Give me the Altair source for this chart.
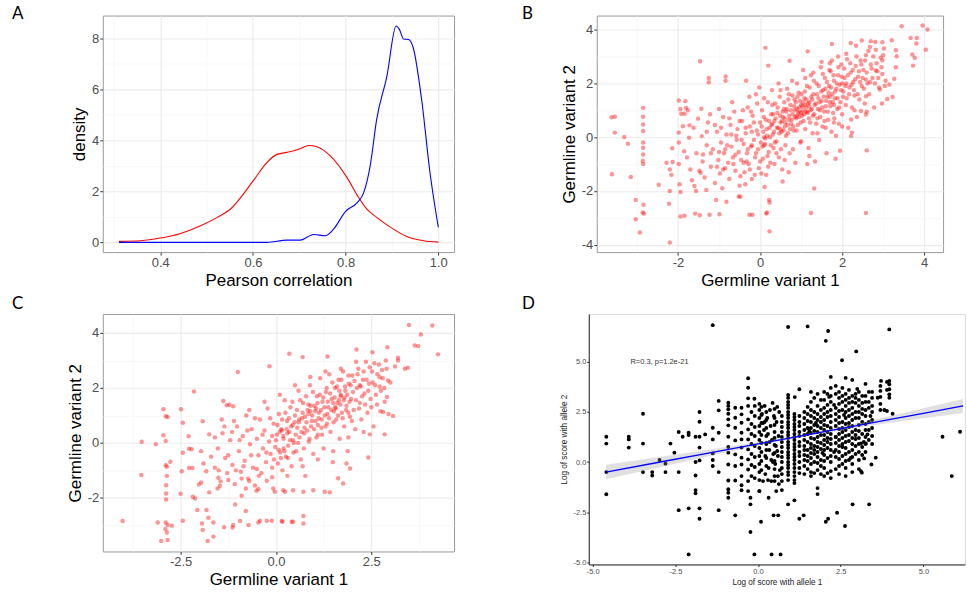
import json
import altair as alt
import pandas as pd

FONT = "Liberation Sans"

# ---------------- Panel A : density of Pearson correlation ----------------
a_red_x = [0.311, 0.358, 0.40, 0.444, 0.487, 0.523, 0.551, 0.60, 0.63, 0.652, 0.677, 0.702,
           0.72, 0.738, 0.767, 0.803, 0.828, 0.846, 0.867, 0.903, 0.932, 0.968, 1.0]
a_red_y = [0.04, 0.065, 0.17, 0.35, 0.65, 0.98, 1.30, 2.40, 3.13, 3.45, 3.54, 3.67,
           3.80, 3.75, 3.39, 2.54, 1.76, 1.30, 0.98, 0.52, 0.23, 0.065, 0.01]
a_blue_x = [0.311, 0.63, 0.673, 0.702, 0.731, 0.756, 0.774, 0.80, 0.825, 0.839, 0.853, 0.867,
            0.889, 0.909, 0.916, 0.925, 0.936, 0.946, 0.964, 0.982, 1.0]
a_blue_y = [0.0, 0.0, 0.09, 0.09, 0.31, 0.26, 0.52, 1.22, 1.56, 1.95, 3.0, 4.82,
            6.51, 8.48, 8.35, 7.97, 7.95, 7.62, 5.6, 2.74, 0.59]

# ---------------- Panel B : germline variant scatter ----------------
b_points = [
    (-3.62, 0.74), (-3.54, 0.76), (-3.54, 0.17), (-3.61, -1.38), (-3.31, 0.01), (-3.22, -0.24),
    (-3.15, -1.48), (-3.03, -2.33), (-3.03, -3.05), (-2.93, -3.54), (-2.85, 1.09), (-2.85, 0.76),
    (-2.85, 0.47), (-2.85, 0.23), (-2.85, -0.2), (-2.85, -0.39), (-2.85, -0.64), (-2.86, -0.88),
    (-2.85, -1.0), (-2.84, -2.51), (-2.86, -2.8), (-2.83, -2.84), (-2.47, -1.77), (-2.28, -0.95),
    (-2.22, -2.47), (-2.2, -3.91), (-2.2, -2.0), (-2.14, -0.41), (-2.13, -0.92), (-2.16, -1.4),
    (-2.2, -1.2), (-1.98, 1.36), (-1.94, 1.05), (-1.82, 1.34), (-1.8, 1.09), (-1.92, 0.87),
    (-1.84, 0.87), (-1.76, 1.0), (-1.98, 0.17), (-1.98, -0.2), (-1.98, -1.0), (-1.96, -1.75),
    (-1.94, -2.04), (-1.94, -2.95), (-1.84, -2.92), (-1.85, -0.52), (-1.88, 0.41), (-1.72, 0.44),
    (-1.73, -0.02), (-1.6, -1.81), (-1.56, -2.0), (-1.58, -2.84), (-1.47, -2.9), (-1.46, 2.82),
    (-1.43, 1.06), (-1.51, 0.69), (-1.42, 0.04), (-1.45, -1.32), (-1.39, -0.64), (-1.31, -1.96),
    (-1.25, 2.2), (-1.25, 2.04), (-1.23, -2.88), (-1.07, -2.33), (-0.99, -2.86), (-0.84, 2.26),
    (-0.84, 2.1), (-0.82, -2.4), (-0.52, -2.2), (-0.48, -2.21), (-0.26, -2.88), (-0.19, -2.88),
    (-0.34, 2.1), (0.13, 3.32), (0.2, 2.66), (0.15, -2.84), (0.17, -2.8), (0.22, -2.33),
    (0.23, -2.43), (0.23, -3.5), (0.72, 2.84), (1.16, 3.19), (1.24, -2.82), (1.32, -1.91),
    (1.75, 3.46), (2.58, -2.82), (2.6, -0.49), (3.45, 4.12), (3.96, 4.15), (4.08, 4.0),
    (4.04, 3.25), (3.67, 3.69), (3.82, 3.69), (3.81, 3.48), (3.71, 3.07), (3.77, 2.95),
    (3.73, 2.66), (3.31, 3.23), (3.33, 3.01), (3.31, 2.6), (3.21, 3.6), (2.98, 3.53),
    (2.81, 3.54), (2.7, 3.57), (2.48, 3.59), (2.21, 3.5), (2.34, 3.4), (3.27, 2.17),
    (3.15, 1.96), (3.04, 1.9), (3.23, 1.49), (2.97, 1.25), (3.1, 1.42), (2.92, 1.77),
    (2.98, 2.86), (2.82, 2.48), (2.58, 2.14), (2.58, 1.52), (2.58, 0.84), (2.46, 0.97),
    (2.22, 0.66), (2.24, 0.17), (2.22, 0.04),
    (-1.55, -0.6), (-1.48, -1.25), (-1.4, -0.9), (-1.35, -1.5), (-1.3, -0.3), (-1.27, 0.55),
    (-1.2, -1.1), (-1.15, -0.45), (-1.1, -1.7), (-1.05, 0.2), (-1.02, -0.85), (-0.98, -1.35),
    (-0.95, -0.2), (-0.9, 0.75), (-0.88, -0.6), (-0.85, -1.15), (-0.82, 0.1), (-0.78, -0.95),
    (-0.75, -1.55), (-0.72, 0.45), (-0.7, -0.35), (-0.66, -0.75), (-0.63, 0.95), (-0.6, -1.25),
    (-0.57, -0.1), (-0.55, 0.3), (-0.52, -0.55), (-0.5, -1.8), (-1.62, 0.35), (-1.7, -1.2),
    (-1.78, -0.75), (-1.66, -1.6), (-1.22, 0.85), (-1.0, 1.05), (-0.92, -1.9), (-0.68, 1.3),
    (-0.46, -0.85), (-0.44, 0.6), (-0.4, -0.25), (-0.38, -1.3), (-0.35, 0.15), (-0.32, -0.6),
    (-0.3, 1.1), (-0.28, -1.0), (-0.25, 0.4), (-0.22, -0.35), (-0.2, -1.55), (-0.18, 0.8),
    (-0.15, -0.1), (-0.12, -0.75), (-0.1, 1.6), (-0.08, 0.25), (-0.05, -0.45), (-0.03, -1.15),
    (0.0, 0.55), (0.02, -0.2), (0.05, 1.0), (0.07, -0.8), (0.08, 0.2), (0.1, -0.3),
    (0.12, -0.25), (0.14, 0.65), (0.15, -1.4), (0.17, 0.05), (0.19, 1.3), (0.21, -0.55),
    (0.23, 0.35), (0.25, -0.95), (0.27, 0.85), (0.29, 1.75), (-0.26, 1.5), (-0.02, 1.85),
    (0.11, -1.85), (-0.36, -1.75),
    (0.31, 0.1), (0.33, -0.4), (0.35, 0.6), (0.37, 1.25), (0.4, -0.15), (0.42, 0.9),
    (0.44, 0.35), (0.46, -0.75), (0.48, 1.5), (0.5, 0.55), (0.52, 0.2), (0.54, -1.2),
    (0.56, 0.75), (0.58, 1.05), (0.6, 0.4), (0.62, -0.3), (0.64, 0.95), (0.66, 1.8),
    (0.68, 0.15), (0.7, 0.65), (0.72, -0.6), (0.74, 1.2), (0.76, 0.5), (0.78, 2.1),
    (0.8, 0.85), (0.82, 0.25), (0.84, 1.4), (0.86, -0.95), (0.88, 0.7), (0.9, 1.05),
    (0.92, 0.45), (0.94, 1.65), (0.96, 0.95), (0.98, -0.2), (0.45, 2.0), (0.55, -1.65),
    (0.7, -1.3), (0.35, -1.0),
    (1.0, 1.2), (1.02, 0.8), (1.04, 1.0), (1.06, 0.6), (1.08, 1.45), (1.1, 0.3),
    (1.12, 1.1), (1.14, 1.9), (1.16, 0.9), (1.18, -0.4), (1.2, 1.3), (1.22, 0.55),
    (1.24, 2.3), (1.26, 1.05), (1.28, 0.15), (1.3, 1.6), (1.32, 0.85), (1.34, -0.9),
    (1.36, 1.25), (1.38, 2.0), (1.4, 0.7), (1.42, 1.45), (1.44, -0.1), (1.46, 1.0),
    (1.48, 2.6), (1.5, 1.35), (1.52, 0.4), (1.54, 1.75), (1.56, 0.95), (1.58, 2.2),
    (1.6, 1.15), (1.62, -0.6), (1.64, 1.5), (1.66, 0.65), (1.68, 1.9), (1.05, 2.5),
    (1.15, -1.0), (0.95, 0.75), (1.25, 1.5),
    (1.7, 1.3), (1.72, 2.45), (1.74, 0.2), (1.76, 1.6), (1.78, 0.9), (1.8, 2.1),
    (1.82, 1.45), (1.84, -0.8), (1.86, 1.8), (1.88, 1.05), (1.9, 2.3), (1.92, 0.5),
    (1.94, 1.95), (1.96, 1.3), (1.98, 2.7), (2.0, 0.85), (2.03, 1.7), (2.06, 2.2),
    (2.09, 1.2), (2.12, 2.9), (2.15, 0.35), (2.18, 1.85), (2.21, 2.4), (2.24, 1.1),
    (2.27, 2.05), (2.3, 1.55), (2.33, 2.65), (2.36, 0.75), (2.39, 2.25), (2.42, 1.4),
    (2.45, 2.85), (2.48, 1.9), (1.75, 2.85), (1.95, -0.5), (2.1, 3.1), (1.85, 0.05),
    (2.52, 2.5), (2.55, 1.25), (2.58, 3.05), (2.62, 2.0), (2.66, 1.6), (2.7, 2.7),
    (2.74, 2.2), (2.78, 1.1), (2.82, 3.25), (2.86, 2.45), (2.9, 1.85), (2.94, 2.95),
    (2.98, 2.35), (3.02, 3.3), (3.06, 2.1), (2.6, 0.95), (2.68, 3.35), (2.8, 2.0),
    (0.95, 1.1), (1.05, 1.3), (1.0, 0.9), (1.1, 1.2), (0.9, 0.8), (0.85, 1.0),
    (1.15, 0.95), (1.2, 1.15), (0.5, 0.3), (0.6, 0.7), (1.7, 1.5), (1.8, 1.2),
    (2.0, 2.0), (0.3, 0.5), (0.1, 0.0), (-0.2, -0.3),
    (-1.0, -0.55), (-0.9, -1.2), (-0.8, -0.3), (-0.7, 0.1), (-0.6, -0.65), (-0.5, 0.6),
    (-0.45, -0.1), (-0.4, -0.95), (-0.35, 0.35), (-0.3, -0.45), (-0.25, -1.2), (-0.2, 0.2),
    (-0.15, 0.55), (-0.1, -0.6), (-0.05, 0.1), (0.0, -0.9), (0.04, 0.4), (0.06, -0.35),
    (0.09, 0.75), (0.13, -0.05), (0.16, 0.3), (0.18, -0.7), (0.22, 0.6), (0.24, 0.0),
    (0.26, -0.3), (0.28, 0.45), (0.32, 0.85), (0.34, 0.2), (0.36, -0.2), (0.38, 0.7),
    (0.41, 0.35), (0.43, 1.1), (0.47, 0.15), (0.49, 0.8), (0.51, -0.45), (0.53, 0.6),
    (0.55, 0.95), (0.57, 0.25), (0.59, 1.3), (0.61, 0.55), (0.63, 0.05), (0.65, 1.05),
    (0.67, 0.45), (0.69, 1.4), (0.71, 0.8), (0.73, 0.3), (0.75, 1.0), (0.77, 0.65),
    (0.79, 1.55), (0.81, 0.4), (0.83, 1.15), (0.85, 0.75), (0.87, 1.3), (0.89, 0.25),
    (0.91, 1.5), (0.93, 0.9), (0.97, 1.35), (0.99, 0.55), (1.01, 1.6), (1.03, 1.15),
    (1.07, 0.85), (1.09, 1.7), (1.11, 0.95), (1.13, 1.4), (1.17, 1.25), (1.19, 0.7),
    (1.21, 1.85), (1.23, 1.0), (1.27, 1.4), (1.29, 0.8), (1.31, 2.1), (1.33, 1.2),
    (1.37, 0.5), (1.39, 1.6), (1.41, 1.05), (1.43, 1.9), (1.45, 1.3), (1.47, 0.75),
    (1.49, 1.7), (1.51, 1.1), (1.53, 2.35), (1.55, 1.5), (1.57, 0.6), (1.59, 1.8),
    (1.61, 1.35), (1.63, 2.05), (1.65, 0.95), (1.67, 1.65), (1.69, 2.5), (1.71, 1.15),
    (1.73, 1.85), (1.77, 1.3), (1.79, 2.3), (1.81, 0.7), (1.83, 1.7), (1.87, 2.0),
    (1.89, 1.45), (1.91, 2.6), (1.93, 1.1), (1.97, 1.75), (1.99, 2.25), (2.02, 1.5),
    (2.05, 2.55), (2.08, 1.9), (2.11, 1.45), (2.14, 2.3), (2.17, 1.6), (2.2, 2.75),
    (2.23, 1.95), (2.26, 2.5), (2.29, 1.75), (2.32, 2.15), (2.35, 3.0), (2.38, 1.6),
    (2.41, 2.45), (2.44, 2.05), (2.47, 2.7), (2.5, 2.2), (2.53, 1.8), (2.56, 2.85),
    (2.6, 2.4), (2.64, 3.2), (2.68, 2.05), (2.72, 2.55), (2.76, 3.0), (2.84, 2.75),
    (2.88, 2.2), (2.96, 2.6), (3.0, 3.05), (-1.3, 0.2), (-1.2, -0.6), (-1.1, 0.45),
    (-1.05, -1.1), (-0.95, 0.35), (-0.85, -0.45), (-0.75, 0.7), (-0.65, -1.0), (-0.58, 0.05),
    (-0.48, -1.45), (-0.42, 1.0), (-0.33, -0.9), (-0.22, 0.95), (-0.13, -1.4), (-0.07, 1.25),
    (0.03, -1.35), (0.1, 1.45), (0.2, -1.1), (0.3, 1.2), (0.4, -0.6), (0.5, 1.75),
    (0.6, -0.85), (0.7, 1.6), (0.8, -0.45), (0.9, 2.0), (1.0, -0.15), (1.1, 2.2),
    (1.2, -0.7), (1.3, 2.4), (1.4, 0.15), (1.5, 2.8), (1.6, 0.35), (1.7, 2.75),
    (1.8, 0.55), (1.9, 3.0), (2.0, 0.4), (2.1, 2.0), (2.3, 1.0),
]

# ---------------- Panel C : germline variant scatter ----------------
c_points = [
    (-4.02, -2.84), (-3.53, -1.17), (-3.52, 0.04), (-3.15, -0.05), (-2.95, 1.22), (-2.89, 0.97),
    (-2.84, 0.94), (-2.95, 0.28), (-2.89, 0.07), (-2.89, -0.81), (-2.86, -0.87), (-2.77, -0.69),
    (-2.86, -1.2), (-2.88, -1.54), (-2.88, -1.84), (-2.88, -2.06), (-2.89, -2.9), (-2.84, -2.99),
    (-2.73, -3.01), (-2.9, -3.13), (-2.86, -3.26), (-2.84, -3.53), (-3.01, -3.57), (-3.1, -2.9),
    (-2.5, -1.85), (-2.47, -1.03), (-2.44, -0.36), (-2.44, 0.73), (-2.49, 1.22), (-2.44, -2.83),
    (-2.29, 0.24), (-2.28, -0.21), (-2.21, -0.23), (-2.28, -0.91), (-2.19, -0.91), (-2.18, -1.96),
    (-2.12, -2.02), (-2.15, 1.87), (-2.06, -2.44), (-2.02, -1.51), (-1.96, -1.44), (-1.94, -2.93),
    (-1.92, -3.17), (-1.92, 0.79), (-1.96, -0.3), (-1.9, -0.75), (-1.83, -1.03), (-1.82, -2.44),
    (-1.79, -3.57), (-1.75, 0.31), (-1.75, -1.8), (-1.77, -2.72), (-1.64, -3.41), (-1.64, -2.9),
    (-1.51, -1.27), (-1.53, -1.66), (-1.47, -1.56), (-1.36, -3.07), (-1.42, 0.85), (-1.38, 1.52),
    (-1.29, 1.37), (-1.22, 1.39), (-1.12, 1.33), (-1.14, -3.08), (-1.12, -2.99), (-1.07, -2.24),
    (-1.0, 2.58), (-0.94, -2.84), (-0.79, -2.48), (-0.72, -2.99), (-0.46, -2.9), (-0.42, -2.83),
    (-0.24, -2.83), (-0.11, -2.83), (0.15, -2.84), (0.17, -2.87), (0.41, -2.87), (0.45, -2.87),
    (0.72, -2.66), (0.72, -2.93), (-0.17, 2.79), (0.35, 3.24), (0.7, 3.12), (1.35, 3.14),
    (2.11, 3.4), (2.53, 3.3), (2.92, 3.48), (3.49, 4.29), (4.1, 4.27), (3.8, 3.94),
    (3.64, 3.54), (3.73, 3.52), (4.25, 3.22), (3.2, 3.1), (3.2, 3.0), (3.38, 2.7),
    (3.46, 2.73), (2.94, 2.27), (3.07, 0.98), (2.85, 0.31), (2.42, -0.53), (2.46, 0.31),
    (2.81, 1.12), (2.74, 1.15), (3.12, 2.78), (2.91, 1.67), (2.72, 2.39),
    (1.94, -0.93), (1.85, -0.75), (1.76, -1.48), (1.63, -1.29), (1.41, -1.8), (1.28, -1.78),
    (0.98, -1.72), (0.72, -1.78), (0.45, -1.72), (0.24, -1.78), (0.19, -1.72), (-0.03, -1.78),
    (-0.07, -1.66), (-0.51, -1.74), (-0.46, -1.68), (-0.79, -1.66), (-0.7, -1.39), (-0.9, -1.92),
    (-0.24, -1.38),
    (-1.6, -0.9), (-1.52, -0.2), (-1.45, -1.4), (-1.4, 0.35), (-1.33, -0.55), (-1.28, -1.1),
    (-1.2, 0.1), (-1.14, -0.8), (-1.08, -1.5), (-1.02, 0.6), (-0.97, -0.3), (-0.92, -1.05),
    (-0.87, 0.25), (-0.82, -0.65), (-0.78, 1.0), (-0.73, -1.3), (-0.68, -0.05), (-0.64, 0.5),
    (-0.6, -0.9), (-0.55, -1.55), (-0.5, 0.15), (-0.46, -0.45), (-0.42, 0.85), (-0.38, -1.1),
    (-0.34, -0.2), (-0.3, 0.45), (-0.26, -0.7), (-0.22, 1.25), (-0.18, 0.05), (-0.14, -0.4),
    (-0.1, -1.25), (-0.06, 0.7), (-0.02, -0.15), (0.02, 0.3), (0.05, -0.75), (0.08, 1.05),
    (0.11, -0.35), (0.14, 0.5), (0.17, -1.0), (0.2, 0.15), (0.23, 1.55), (0.26, -0.5),
    (0.29, 0.8), (0.32, -0.1), (0.35, 0.4), (0.38, 1.3), (0.41, -0.85), (0.44, 0.65),
    (0.47, 0.0), (0.5, 1.0), (0.53, -0.3), (0.56, 0.55), (0.59, 1.9), (0.62, 0.2),
    (0.65, -0.6), (0.68, 0.9), (0.71, 1.45), (0.74, 0.35), (0.77, -1.2), (0.8, 0.75),
    (0.83, 1.2), (0.86, 0.05), (0.89, 2.1), (0.92, 0.6), (0.95, 1.0), (0.98, -0.4),
    (1.01, 1.35), (1.04, 0.8), (1.07, 1.7), (1.1, 0.3), (1.13, 1.1), (1.16, 2.35),
    (1.19, 0.55), (1.22, 1.5), (1.25, -0.2), (1.28, 1.0), (1.31, 1.85), (1.34, 0.7),
    (1.37, 1.3), (1.4, 2.5), (1.43, 0.4), (1.46, 1.6), (1.49, -0.7), (1.52, 1.15),
    (1.55, 2.0), (1.58, 0.85), (1.61, 1.45), (1.64, 2.3), (1.67, 0.15), (1.7, 1.75),
    (1.73, 1.1), (1.76, 2.6), (1.79, 0.6), (1.82, 1.9), (1.85, 1.35), (1.88, -0.3),
    (1.91, 2.15), (1.94, 0.95), (1.97, 1.6), (2.0, 2.45), (2.04, 1.2), (2.08, 0.5),
    (2.12, 2.0), (2.16, 2.7), (2.2, 1.45), (2.24, 0.85), (2.28, 2.3), (2.32, 1.8),
    (2.36, 2.95), (2.4, 1.1), (2.44, 2.15), (2.48, 1.6), (2.52, 2.6), (2.56, 0.6),
    (2.6, 2.1), (2.65, 1.4), (2.7, 2.85), (2.75, 1.9), (2.8, 2.35), (2.85, 1.5),
    (2.9, 2.7), (2.95, 1.05), (3.0, 2.2),
    (0.3, 0.35), (0.6, 0.75), (0.9, 1.15), (1.2, 0.85), (1.5, 1.45), (1.8, 1.65),
    (0.75, 0.55), (1.05, 1.25), (1.35, 1.05), (1.65, 1.55), (0.45, 0.1), (0.15, 0.45),
    (1.1, 0.65), (1.55, 1.3), (1.7, 1.7), (0.85, 1.4), (0.2, -0.2), (-0.1, 0.25),
    (1.9, 1.1), (2.2, 2.1),
    (-1.25, -0.45), (-1.15, 0.4), (-1.05, -1.0), (-0.95, 0.1), (-0.85, -0.85), (-0.75, 0.45),
    (-0.65, -0.45), (-0.55, 0.9), (-0.45, -1.2), (-0.35, 0.3), (-0.25, -0.35), (-0.15, 0.9),
    (-0.05, -0.6), (0.0, 0.1), (0.04, 0.65), (0.07, -0.25), (0.1, 0.4), (0.13, -0.55),
    (0.16, 0.85), (0.19, 0.25), (0.22, -0.3), (0.25, 1.1), (0.28, 0.5), (0.31, -0.55),
    (0.34, 0.9), (0.37, 0.1), (0.4, 0.6), (0.43, 1.5), (0.46, -0.35), (0.49, 0.75),
    (0.52, 0.3), (0.55, 1.2), (0.58, 0.0), (0.61, 0.85), (0.64, 1.55), (0.67, 0.4),
    (0.7, 1.1), (0.73, -0.2), (0.76, 0.95), (0.79, 1.7), (0.82, 0.45), (0.85, 1.05),
    (0.88, 0.15), (0.91, 1.35), (0.94, 0.8), (0.97, 1.85), (1.0, 0.5), (1.03, 1.15),
    (1.06, 0.2), (1.09, 1.45), (1.12, 0.9), (1.15, 1.75), (1.18, 1.2), (1.21, 0.3),
    (1.24, 1.65), (1.27, 1.3), (1.3, 0.6), (1.33, 2.0), (1.36, 1.5), (1.39, 0.9),
    (1.42, 1.8), (1.45, 1.2), (1.48, 2.2), (1.51, 0.75), (1.54, 1.65), (1.57, 1.25),
    (1.6, 2.05), (1.63, 1.0), (1.66, 1.9), (1.69, 1.4), (1.72, 2.3), (1.75, 0.9),
    (1.78, 1.55), (1.81, 2.05), (1.84, 1.2), (1.87, 1.75), (1.9, 2.45), (1.93, 1.5),
    (1.96, 2.1), (1.99, 0.8), (2.02, 1.85), (2.06, 2.25), (2.1, 1.55), (2.14, 2.5),
    (2.18, 1.25), (2.22, 2.05), (2.26, 1.7), (2.3, 2.6), (2.34, 1.4), (2.38, 2.3),
    (2.42, 1.9), (2.46, 2.75), (2.5, 1.3), (2.54, 2.2), (2.58, 2.9), (2.62, 1.75),
    (2.66, 2.5), (2.72, 2.05), (2.78, 2.65), (2.84, 2.0), (2.88, 3.0), (-1.7, -0.5),
    (-1.6, 0.2), (-1.5, -1.0), (-1.35, 0.6), (-1.25, -1.35), (-1.1, 0.8), (-0.9, -1.3),
    (-0.7, 1.2), (-0.5, -0.95), (-0.3, 1.5), (-0.1, -0.9), (0.1, 1.75), (0.3, -1.2),
    (0.5, 2.1), (0.7, -0.85), (0.9, 2.4), (1.1, -0.6), (1.3, 2.6), (1.5, -0.3),
    (1.7, 2.7), (1.9, 0.2), (2.1, 2.95), (2.3, 0.4),
]

# ---------------- Panel D : log scores with regression ----------------
d_points = [
    (-4.59, 1.26), (-4.59, 0.92), (-4.59, -0.5), (-4.59, -1.61), (-3.91, 1.26), (-3.91, 1.13),
    (-3.91, 0.72), (-3.48, 2.41), (-3.48, 0.92), (-3.48, -0.5), (-3.2, -0.5), (-3.2, -0.67),
    (-2.98, 0.1), (-2.8, -0.08), (-2.8, -0.5), (-2.65, 0.92), (-2.53, 0.47), (-2.4, 1.5),
    (-2.4, -0.5), (-2.4, -2.4), (-2.28, 1.26), (-2.1, -2.31), (-2.1, -4.61), (-2.1, 1.46),
    (-2.1, 1.35), (-1.89, 1.26), (-1.89, 0.0), (-1.89, -0.67), (-1.89, -1.4), (-1.89, -1.56),
    (-1.77, 2.5), (-1.77, 2.01), (-1.77, 1.26), (-1.77, 0.72), (-1.77, 0.08), (-1.77, -2.31),
    (-1.77, -2.83), (-1.6, 1.38), (-1.37, 6.83), (-1.37, 1.71), (-1.37, 1.13), (-1.37, 0.43),
    (-1.37, 0.1), (-1.37, -0.2), (-1.19, 3.05), (-1.19, 2.58), (-1.19, 1.46), (-1.19, -0.5),
    (-1.19, -2.4), (-0.69, -2.66), (-0.23, -3.49), (-0.23, -2.11), (-0.23, -1.78),
    (-0.11, -4.61), (-0.11, 3.16), (0.04, -1.45), (0.09, -2.98), (0.41, -4.61), (0.68, -4.61),
    (0.32, -1.78), (0.47, -2.66), (0.61, -2.66), (0.91, 6.74), (0.91, -2.11), (1.1, -1.91),
    (1.25, -2.83), (1.38, -2.66), (1.5, 6.77), (1.11, 3.24), (1.25, 3.63), (2.05, 6.05),
    (2.12, 6.54), (2.05, -2.98), (2.12, -2.83), (2.39, -2.53), (2.54, 5.08), (2.63, -3.19),
    (2.97, 5.52), (2.86, -2.11), (3.36, -2.11), (3.97, 6.62), (5.58, 1.26), (5.86, -0.7),
    (6.11, 1.51), (4.07, 2.41), (3.97, 4.05), (3.97, 3.88), (3.97, 3.63), (3.97, 3.38),
    (3.97, 3.21), (3.72, 4.05), (3.82, 2.6), (3.62, 3.21), (3.56, 0.22), (3.43, -0.12),
    (3.21, 0.18), (3.11, -0.45), (3.14, -0.53), (3.26, 0.93), (3.11, 0.93), (3.31, 1.38),
    (0.12, 2.4), (0.15, 1.95), (0.18, 1.6), (0.2, 2.8), (0.22, 0.3), (0.25, 0.9),
    (0.28, 2.2), (0.3, 1.4), (0.32, -0.3), (0.34, 0.6), (0.36, 2.6), (0.38, 1.8),
    (0.4, 0.1), (0.42, 1.1), (0.44, 2.95), (0.46, 0.4), (0.48, 2.3), (0.5, 1.5),
    (0.52, -0.1), (0.54, 0.8), (0.56, 2.0), (0.58, 2.75), (0.6, 0.3), (0.62, 1.3),
    (0.64, 2.5), (0.66, -0.4), (0.22, -0.6), (0.3, -0.9), (0.4, -0.95), (0.5, -0.95),
    (0.55, -1.45), (0.63, -1.1), (0.6, -0.7), (0.15, -0.95), (0.2, 2.0), (0.35, 1.0),
    (0.45, 0.0), (0.58, 0.55),
    (1.5, 2.75), (1.7, 0.6), (1.9, 2.25), (2.1, 1.0), (2.3, 2.85), (2.55, 0.9),
    (2.75, 3.2), (2.95, 1.35), (3.15, 2.65), (3.35, 1.1), (1.5, 0.05), (1.7, 3.2),
    (1.9, -0.2), (2.1, 2.5), (2.3, 0.5), (2.55, 3.7), (2.75, 1.75), (2.95, 2.95),
    (3.15, 0.35), (3.35, 3.5), (1.55, 1.55), (1.75, 1.95), (1.95, 0.45), (2.15, 3.25),
    (2.35, 1.25), (2.6, 2.35), (2.8, 0.2), (3.0, 3.65), (3.2, 1.0), (3.4, 2.3),
]
d_columns = [
    (-0.9, [2.96, 2.8, 2.63, 2.41, 2.13, 1.83, 1.26, 0.75, 0.47, -0.12, -0.92, -1.36, -1.53, -1.78]),
    (-0.69, [2.71, 2.21, 1.71, 1.08, 0.38, -0.2, -0.92]),
    (-0.5, [2.71, 2.38, 1.96, 1.46, 1.13, 0.72, 0.22, -0.12, -0.7, -1.16, -1.41]),
    (-0.3, [4.18, 3.71, 3.18, 2.8, 2.13, 1.63, 1.13, 0.63, 0.13, -0.37, -0.95, -1.45]),
    (-0.2, [2.5, 1.9, 1.4, 0.9, 0.4, -0.15, -0.7]),
    (-0.1, [2.8, 2.3, 1.75, 1.3, 0.8, 0.25, -0.25, -0.8]),
    (0.04, [2.9, 2.6, 2.2, 1.8, 1.5, 1.1, 0.7, 0.3, -0.1, -0.5, -0.9, -1.45]),
    (0.1, [2.75, 2.35, 1.95, 1.35, 0.95, 0.5, 0.05, -0.4]),
    (0.25, [2.5, 2.1, 1.7, 1.3, 0.95, 0.6, 0.2, -0.2]),
    (0.5, [2.65, 2.2, 1.85, 1.2, 0.85, 0.45, 0.05, -0.35, -0.7]),
    (0.72, [2.3, 2.0, 1.75, 1.5, 1.25, 1.0, 0.75, 0.5, 0.25, 0.0, -0.3, -0.6, -0.95, -1.4]),
    (0.91, [3.35, 3.2, 3.0, 2.85, 2.7, 2.5, 2.35, 2.2, 2.0, 1.85, 1.7, 1.5, 1.35, 1.2, 1.0,
            0.85, 0.7, 0.5, 0.35, 0.2, 0.0, -0.15, -0.3, -0.5, -0.65, -0.9]),
    (1.1, [2.4, 2.25, 2.1, 1.9, 1.75, 1.6, 1.4, 1.25, 1.1, 0.9, 0.75, 0.6, 0.4, 0.25, 0.1,
           -0.1, -0.3, -0.5, -0.7, -0.9, -1.05]),
    (1.25, [2.3, 2.0, 1.8, 1.5, 1.3, 1.0, 0.8, 0.5, 0.3, 0.0, -0.3, -0.55]),
    (1.4, [2.5, 2.2, 1.9, 1.6, 1.35, 1.1, 0.8, 0.6, 0.35, 0.1, -0.2, -0.6]),
    (1.5, [2.4, 2.05, 1.7, 1.4, 1.0, 0.6, 0.3, -0.35]),
    (1.6, [3.5, 3.0, 2.6, 2.3, 2.0, 1.7, 1.45, 1.2, 0.9, 0.7, 0.45, 0.2, -0.1, -0.5, -0.7]),
    (1.7, [2.5, 2.2, 1.85, 1.55, 1.15, 0.8, 0.4, 0.0, -0.55]),
    (1.8, [3.4, 2.8, 2.4, 2.1, 1.8, 1.5, 1.25, 1.0, 0.75, 0.5, 0.25, -0.05, -0.4, -1.3, -1.6]),
    (1.9, [3.1, 2.6, 2.0, 1.7, 1.35, 0.95, 0.65, 0.1, -0.6]),
    (2.0, [3.5, 3.1, 2.7, 2.4, 2.1, 1.85, 1.6, 1.35, 1.1, 0.85, 0.6, 0.35, 0.05, -0.3, -0.7]),
    (2.1, [3.4, 2.85, 2.25, 1.8, 1.5, 1.2, 0.7, 0.2, -0.55]),
    (2.2, [4.25, 3.7, 3.3, 3.0, 2.6, 2.3, 2.0, 1.7, 1.4, 1.15, 0.9, 0.6, 0.3, 0.0, -0.45, -0.8]),
    (2.35, [3.8, 3.4, 2.7, 2.4, 2.1, 1.8, 1.25, 0.95, 0.6, 0.25, -0.35]),
    (2.45, [3.5, 3.2, 2.9, 2.55, 2.25, 1.95, 1.65, 1.4, 1.1, 0.8, 0.5, 0.15, -0.2, -0.6]),
    (2.55, [3.3, 3.0, 2.6, 2.0, 1.7, 1.5, 1.2, 0.75, 0.3, -0.1]),
    (2.65, [4.2, 3.4, 3.1, 2.8, 2.5, 2.2, 1.9, 1.6, 1.3, 1.0, 0.7, 0.4, 0.05, -0.3, -0.7]),
    (2.75, [3.6, 2.95, 2.6, 2.3, 1.95, 1.35, 1.05, 0.5, 0.1]),
    (2.85, [4.1, 3.3, 3.0, 2.7, 2.4, 2.1, 1.8, 1.5, 1.2, 0.9, 0.6, 0.25, -0.1, -0.5]),
    (2.95, [3.4, 3.2, 2.5, 2.2, 1.6, 1.15, 0.8, 0.4]),
    (3.05, [3.5, 3.1, 2.8, 2.5, 2.2, 1.85, 1.55, 1.2, 0.9, 0.5, 0.1, -0.35]),
    (3.15, [3.3, 2.95, 2.4, 2.0, 1.4, 0.75]),
    (3.25, [3.9, 3.3, 3.0, 2.6, 2.3, 1.9, 1.6, 1.25, 0.9, 0.5]),
    (3.35, [3.0, 2.7, 2.0, 1.6]),
    (3.45, [3.5, 3.2, 2.8, 2.5, 2.1, 1.7, 1.3, 0.9]),
    (3.7, [3.8, 3.55, 3.25, 2.9, 2.6]),
    (3.9, [4.0, 3.6, 2.55]),
]
d_fit_x = [-4.6, -3.0, -1.5, 0.0, 1.2, 2.5, 4.0, 5.0, 6.2]
d_fit_y = [-0.50, -0.01, 0.45, 0.91, 1.27, 1.67, 2.13, 2.43, 2.80]
d_fit_lo = [-0.86, -0.27, 0.29, 0.82, 1.20, 1.58, 1.96, 2.18, 2.45]
d_fit_hi = [-0.14, 0.25, 0.61, 1.00, 1.34, 1.76, 2.30, 2.68, 3.15]
d_stat_label = "R=0.3, p=1.2e-21"

# ---------------- tables ----------------
df_a = pd.DataFrame({
    "x": a_red_x + a_blue_x,
    "y": a_red_y + a_blue_y,
    "s": ["r"] * len(a_red_x) + ["b"] * len(a_blue_x),
})
df_b = pd.DataFrame(b_points, columns=["x", "y"])
df_c = pd.DataFrame(c_points, columns=["x", "y"])
d_all = list(d_points)
for cx, ys in d_columns:
    d_all += [(cx, yy) for yy in ys]
df_d = pd.DataFrame(d_all, columns=["x", "y"])
df_fit = pd.DataFrame({"x": d_fit_x, "y": d_fit_y, "lo": d_fit_lo, "hi": d_fit_hi})
df_stat = pd.DataFrame({"x": [-3.86], "y": [4.97], "t": [d_stat_label]})


def gg_axis(majors, minors, title, fmt):
    test = "indexof(%s, datum.value) >= 0" % json.dumps(majors)
    return alt.Axis(
        values=sorted(majors + minors),
        title=title,
        format=fmt,
        labelExpr=f"{test} ? replace(datum.label, '\u2212', '-') : ''",
        labelOverlap=False,
        labelFlush=False,
        domain=False,
        gridColor={"condition": {"test": test, "value": "#EBEBEB"}, "value": "#F4F4F4"},
        gridWidth={"condition": {"test": test, "value": 1.1}, "value": 0.6},
        tickColor={"condition": {"test": test, "value": "#333333"}, "value": "rgba(0,0,0,0)"},
        tickSize=3,
        labelFont=FONT, labelFontSize=13, labelColor="#4D4D4D", labelPadding=1,
        titleFont=FONT, titleFontSize=17, titleFontWeight="normal", titleColor="#000000",
        titlePadding=3,
    )


def panel_label(letter, dx, dy):
    return alt.Chart(alt.Data(values=[{}])).mark_text(
        text=letter, font="Lato", fontSize=17, align="left", baseline="alphabetic", color="#000000"
    ).encode(x=alt.value(dx), y=alt.value(dy))


BORDER = alt.ViewBackground(stroke="#9a9a9a", strokeWidth=1)

# ---- A ----
a_x = alt.X("x:Q", scale=alt.Scale(domain=[0.276, 1.034], nice=False, zero=False),
            axis=gg_axis([0.4, 0.6, 0.8, 1.0], [0.3, 0.5, 0.7, 0.9], "Pearson correlation", ".1f"))
a_y = alt.Y("y:Q", scale=alt.Scale(domain=[-0.38, 8.89], nice=False, zero=False),
            axis=gg_axis([0, 2, 4, 6, 8], [1, 3, 5, 7], "density", "d"))
chart_a = alt.layer(
    alt.Chart(df_a).mark_line(strokeWidth=1.1, interpolate="monotone").encode(
        x=a_x, y=a_y,
        color=alt.Color("s:N", scale=alt.Scale(domain=["r", "b"], range=["#FF0000", "#0000FF"]),
                        legend=None),
    ),
    panel_label("A", -91, 3),
).properties(width=352, height=237, view=BORDER)

# ---- B ----
b_x = alt.X("x:Q", scale=alt.Scale(domain=[-3.98, 4.46], nice=False, zero=False),
            axis=gg_axis([-2, 0, 2, 4], [-3, -1, 1, 3], "Germline variant 1", "d"))
b_y = alt.Y("y:Q", scale=alt.Scale(domain=[-4.27, 4.52], nice=False, zero=False),
            axis=gg_axis([-4, -2, 0, 2, 4], [-3, -1, 1, 3], "Germline variant 2", "d"))
chart_b = alt.layer(
    alt.Chart(df_b).mark_circle(size=20, opacity=0.42, color="#FF0000").encode(x=b_x, y=b_y),
    panel_label("B", -75, 3),
).properties(width=347, height=237, view=BORDER)

# ---- C ----
c_x = alt.X("x:Q", scale=alt.Scale(domain=[-4.54, 4.67], nice=False, zero=False),
            axis=gg_axis([-2.5, 0, 2.5], [-3.75, -1.25, 1.25, 3.75], "Germline variant 1", ".1f"))
c_y = alt.Y("y:Q", scale=alt.Scale(domain=[-3.95, 4.69], nice=False, zero=False),
            axis=gg_axis([-2, 0, 2, 4], [-3, -1, 1, 3], "Germline variant 2", "d"))
chart_c = alt.layer(
    alt.Chart(df_c).mark_circle(size=20, opacity=0.42, color="#FF0000").encode(x=c_x, y=c_y),
    panel_label("C", -91, -5),
).properties(width=352, height=238, view=BORDER)

# ---- D ----
d_xscale = alt.Scale(domain=[-5.12, 6.26], nice=False, zero=False)
d_yscale = alt.Scale(domain=[-5.11, 7.39], nice=False, zero=False)


def d_axis(title):
    return alt.Axis(
        values=[-5, -2.5, 0, 2.5, 5], format=".1f", title=title, grid=False,
        labelExpr="replace(datum.label, '\u2212', '-')",
        domainColor="#222222", domainWidth=1, tickColor="#222222", tickSize=2,
        labelFont=FONT, labelFontSize=7.5, labelColor="#4D4D4D", labelPadding=1,
        titleFont=FONT, titleFontSize=8.2, titleFontWeight="normal", titleColor="#222222",
        titlePadding=4, labelOverlap=False, labelFlush=False,
    )


d_X = alt.X("x:Q", scale=d_xscale, axis=d_axis("Log of score with allele 1"))
d_Y = alt.Y("y:Q", scale=d_yscale, axis=d_axis("Log of score with allele 2"))
chart_d = alt.layer(
    alt.Chart(df_d).mark_circle(size=15, opacity=1, color="#000000").encode(x=d_X, y=d_Y),
    alt.Chart(df_fit).mark_area(color="#999999", opacity=0.3).encode(
        x=d_X, y=alt.Y("lo:Q", scale=d_yscale, axis=d_axis("Log of score with allele 2")),
        y2="hi:Q"),
    alt.Chart(df_fit).mark_line(color="#0000FF", strokeWidth=1.3).encode(x=d_X, y=d_Y),
    alt.Chart(df_stat).mark_text(font=FONT, fontSize=7.5, align="left", baseline="middle",
                                 color="#333333").encode(x=d_X, y=d_Y, text="t:N"),
    panel_label("D", -67, -5),
).properties(width=377, height=251)

row1 = alt.hconcat(chart_a, chart_b, spacing=143, bounds="flush")
row2 = alt.hconcat(chart_c, chart_d, spacing=135, bounds="flush")
chart = alt.vconcat(row1, row2, spacing=5).properties(
    padding={"left": 11, "top": 3, "right": 0, "bottom": 0}
).configure_view(strokeWidth=0).configure(background="white", font=FONT)

chart.save("out.html", embed_options={"renderer": "svg", "actions": False})
